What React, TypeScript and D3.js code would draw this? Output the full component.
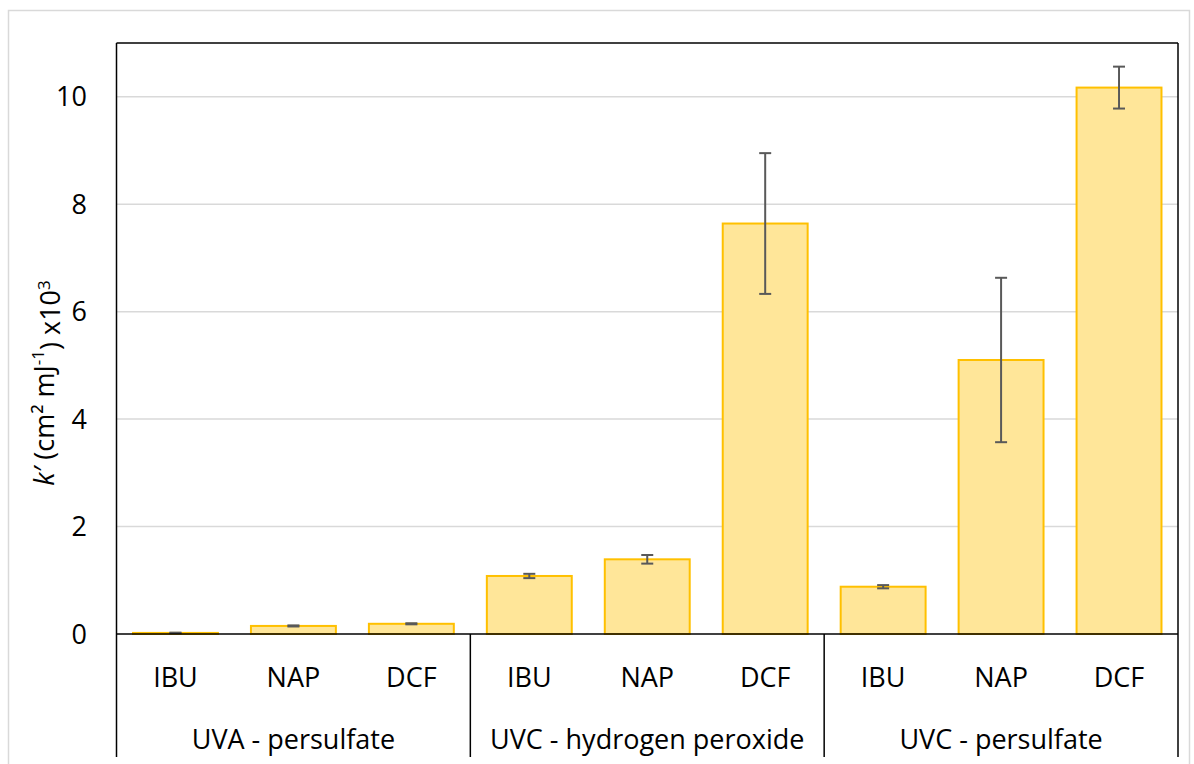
import { useEffect, useRef } from "react";
import * as d3 from "d3";

const groups = ["UVA - persulfate", "UVC - hydrogen peroxide", "UVC - persulfate"];
const compounds = ["IBU", "NAP", "DCF"];
const uvaPersulfate = [0.02, 0.15, 0.19];
const uvcPeroxide = [1.08, 1.39, 7.64];
const uvcPersulfate = [0.88, 5.1, 10.17];
const uvaPersulfateErr = [0.005, 0.01, 0.01];
const uvcPeroxideErr = [0.04, 0.08, 1.31];
const uvcPersulfateErr = [0.03, 1.53, 0.39];
const yTicks = [0, 2, 4, 6, 8, 10];

const FONT = "'Open Sans', 'Liberation Sans', sans-serif";
const FS = 27;

export default function App() {
  const ref = useRef<SVGSVGElement>(null);

  useEffect(() => {
    const W = 1194;
    const H = 764;
    const left = 116.5;
    const right = 1178;
    const top = 43;
    const bottom = 634;
    const labelBottom = 757;

    const values = [uvaPersulfate, uvcPeroxide, uvcPersulfate];
    const errors = [uvaPersulfateErr, uvcPeroxideErr, uvcPersulfateErr];
    const rows = groups.flatMap((g, gi) =>
      compounds.map((c, ci) => ({
        key: `${gi}-${c}`,
        group: g,
        compound: c,
        value: values[gi][ci],
        err: errors[gi][ci],
      }))
    );

    const svg = d3.select(ref.current).attr("width", W).attr("height", H);
    svg.selectAll("*").remove();

    // outer chart frame
    svg
      .append("rect")
      .attr("x", 8.5)
      .attr("y", 10.5)
      .attr("width", 1181)
      .attr("height", 800)
      .attr("fill", "#fff")
      .attr("stroke", "#d9d9d9")
      .attr("stroke-width", 1.5);

    const x = d3
      .scaleBand()
      .domain(rows.map((d) => d.key))
      .range([left, right])
      .paddingInner(0.28)
      .paddingOuter(0.14);
    const xGroup = d3.scaleBand().domain(groups).range([left, right]);
    const y = d3.scaleLinear().domain([0, 11]).range([bottom, top]);

    // gridlines
    svg
      .append("g")
      .selectAll("line")
      .data(yTicks.filter((t) => t > 0))
      .enter()
      .append("line")
      .attr("x1", left)
      .attr("x2", right)
      .attr("y1", (d) => y(d))
      .attr("y2", (d) => y(d))
      .attr("stroke", "#d9d9d9")
      .attr("stroke-width", 1.5);

    // y axis tick labels
    svg
      .append("g")
      .selectAll("text")
      .data(yTicks)
      .enter()
      .append("text")
      .attr("x", 87)
      .attr("y", (d) => y(d))
      .attr("dy", "0.36em")
      .attr("text-anchor", "end")
      .attr("font-family", FONT)
      .attr("font-size", FS)
      .attr("fill", "#000")
      .text((d) => d);

    // bars
    svg
      .append("g")
      .selectAll("rect")
      .data(rows)
      .enter()
      .append("rect")
      .attr("x", (d) => x(d.key)!)
      .attr("y", (d) => y(d.value))
      .attr("width", x.bandwidth())
      .attr("height", (d) => bottom - y(d.value))
      .attr("fill", "#ffe699")
      .attr("stroke", "#ffc000")
      .attr("stroke-width", 2);

    // error bars
    const eb = svg
      .append("g")
      .attr("stroke", "#595959")
      .attr("stroke-width", 2)
      .selectAll("g")
      .data(rows)
      .enter()
      .append("g");
    const cx = (d: any) => x(d.key)! + x.bandwidth() / 2;
    eb.append("line")
      .attr("x1", cx)
      .attr("x2", cx)
      .attr("y1", (d) => y(d.value + d.err))
      .attr("y2", (d) => y(d.value - d.err));
    eb.append("line")
      .attr("x1", (d) => cx(d) - 6)
      .attr("x2", (d) => cx(d) + 6)
      .attr("y1", (d) => y(d.value + d.err))
      .attr("y2", (d) => y(d.value + d.err));
    eb.append("line")
      .attr("x1", (d) => cx(d) - 6)
      .attr("x2", (d) => cx(d) + 6)
      .attr("y1", (d) => y(d.value - d.err))
      .attr("y2", (d) => y(d.value - d.err));

    // plot frame
    const axis = svg.append("g").attr("stroke", "#000").attr("stroke-width", 1.5);
    axis
      .append("line")
      .attr("x1", left)
      .attr("x2", right)
      .attr("y1", top)
      .attr("y2", top);
    axis
      .append("line")
      .attr("x1", right)
      .attr("x2", right)
      .attr("y1", top)
      .attr("y2", bottom);
    axis
      .append("line")
      .attr("x1", left)
      .attr("x2", right)
      .attr("y1", bottom)
      .attr("y2", bottom);
    // group separators down through the category labels
    axis
      .selectAll("line.sep")
      .data([...groups.map((g) => xGroup(g)!), right])
      .enter()
      .append("line")
      .attr("class", "sep")
      .attr("x1", (d) => d)
      .attr("x2", (d) => d)
      .attr("y1", (d) => (d === left ? top : bottom))
      .attr("y2", labelBottom);

    // compound labels
    svg
      .append("g")
      .selectAll("text")
      .data(rows)
      .enter()
      .append("text")
      .attr("x", cx)
      .attr("y", 677)
      .attr("dy", "0.36em")
      .attr("text-anchor", "middle")
      .attr("font-family", FONT)
      .attr("font-size", FS)
      .text((d) => d.compound);

    // group labels
    svg
      .append("g")
      .selectAll("text")
      .data(groups)
      .enter()
      .append("text")
      .attr("x", (d) => xGroup(d)! + xGroup.bandwidth() / 2)
      .attr("y", 739)
      .attr("dy", "0.36em")
      .attr("text-anchor", "middle")
      .attr("font-family", FONT)
      .attr("font-size", FS)
      .text((d) => d);

    // y axis title
    const title = svg
      .append("text")
      .attr("transform", "translate(44,383) rotate(-90)")
      .attr("dy", "0.36em")
      .attr("text-anchor", "middle")
      .attr("font-family", FONT)
      .attr("font-size", FS);
    title.append("tspan").attr("font-style", "italic").text("k′");
    title.append("tspan").text(" (cm² mJ");
    title.append("tspan").attr("font-size", 17).attr("dy", "-0.6em").text("-1");
    title.append("tspan").attr("dy", "0.6em").text(") x10");
    title.append("tspan").attr("font-size", 17).attr("dy", "-0.6em").text("3");
  }, []);

  return (
    <svg
      ref={ref}
      style={{ position: "absolute", left: 0, top: 0, display: "block" }}
    />
  );
}
